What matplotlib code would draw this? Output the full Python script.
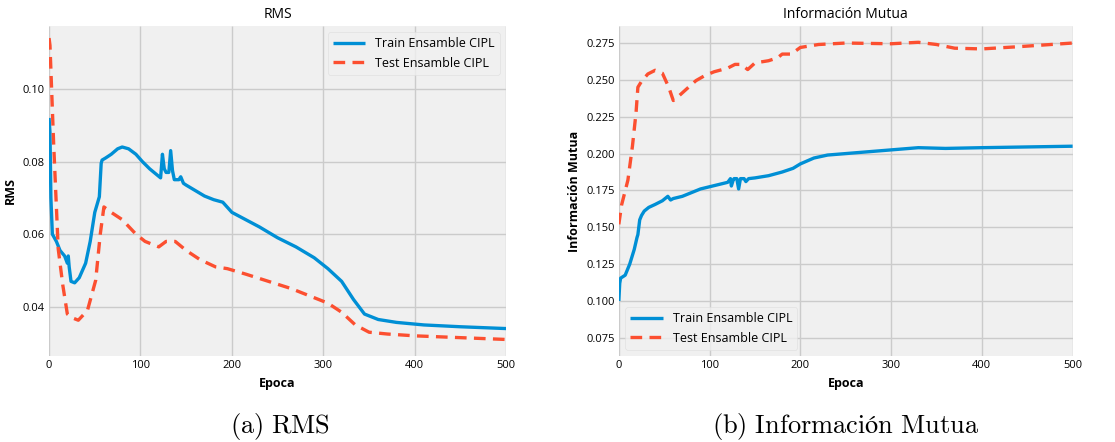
import matplotlib
matplotlib.use("Agg")
import matplotlib.pyplot as plt

plt.style.use("fivethirtyeight")
plt.rcParams["font.family"] = ["Open Sans", "DejaVu Sans"]
plt.rcParams["mathtext.fontset"] = "cm"

# RMS curves
rms_train_x = [0, 1, 2, 3.6, 8, 12, 17, 20, 21, 22, 24, 28, 33, 40, 45, 50, 55, 57, 58, 62, 68,
               75, 80, 87, 95, 102, 110, 122, 124, 126, 128, 131, 133, 135, 137, 142, 144, 147,
               150, 160, 170, 180, 190, 200, 215, 230, 250, 270, 290, 305, 320, 333, 345, 360,
               380, 410, 450, 500]
rms_train_y = [0.092, 0.088, 0.070, 0.060, 0.058, 0.0555, 0.054, 0.052, 0.054, 0.051, 0.047,
               0.0466, 0.048, 0.052, 0.058, 0.066, 0.0703, 0.0795, 0.0804, 0.081, 0.082,
               0.0835, 0.084, 0.0835, 0.082, 0.080, 0.078, 0.0755, 0.082, 0.078, 0.077, 0.077,
               0.083, 0.0775, 0.075, 0.075, 0.0758, 0.074, 0.0735, 0.072, 0.0705, 0.0695,
               0.0688, 0.066, 0.064, 0.062, 0.059, 0.0565, 0.0535, 0.0505, 0.047, 0.042, 0.038,
               0.0365, 0.0357, 0.035, 0.0345, 0.034]
rms_test_x = [0, 1, 5, 10, 15, 20, 25, 32, 42, 51, 56, 60, 68, 80, 95, 105, 120, 128, 138, 150,
              165, 182, 195, 215, 240, 265, 285, 305, 320, 335, 350, 370, 400, 450, 500]
rms_test_y = [0.114, 0.112, 0.085, 0.056, 0.046, 0.038, 0.037, 0.0363, 0.039, 0.0473, 0.060,
              0.0675, 0.066, 0.064, 0.060, 0.058, 0.0565, 0.058, 0.058, 0.0555, 0.053, 0.051,
              0.0505, 0.049, 0.047, 0.045, 0.043, 0.041, 0.0385, 0.035, 0.033, 0.0325, 0.032,
              0.0315, 0.031]

# Mutual information curves
mi_train_x = [0, 1, 2, 7, 12, 17, 20, 21, 22, 23, 25, 28, 33, 40, 48, 54, 57, 60, 70, 80, 90,
              100, 110, 120, 123, 124, 126, 127, 130, 132, 134, 138, 140, 143, 150, 165, 180,
              192, 200, 215, 230, 260, 300, 330, 360, 400, 450, 500]
mi_train_y = [0.100, 0.112, 0.1155, 0.1175, 0.125, 0.135, 0.143, 0.145, 0.150, 0.155, 0.158,
              0.161, 0.1635, 0.1655, 0.168, 0.171, 0.1685, 0.1695, 0.171, 0.1735, 0.176,
              0.1775, 0.179, 0.1805, 0.183, 0.178, 0.182, 0.183, 0.183, 0.176, 0.183, 0.183,
              0.181, 0.183, 0.1835, 0.185, 0.1875, 0.190, 0.193, 0.197, 0.199, 0.2005, 0.2025,
              0.204, 0.2035, 0.204, 0.2045, 0.205]
mi_test_x = [0, 3, 10, 15, 19, 21, 25, 32, 40, 48, 55, 60, 66, 75, 85, 95, 105, 120, 128, 135,
             142, 150, 165, 175, 180, 190, 200, 220, 250, 300, 330, 350, 370, 400, 440, 500]
mi_test_y = [0.152, 0.165, 0.182, 0.205, 0.228, 0.245, 0.249, 0.254, 0.2565, 0.2545, 0.245,
             0.236, 0.239, 0.244, 0.2495, 0.253, 0.2555, 0.258, 0.2605, 0.2605, 0.257, 0.2615,
             0.263, 0.265, 0.2675, 0.2675, 0.272, 0.274, 0.275, 0.2745, 0.2755, 0.274, 0.2715,
             0.271, 0.2725, 0.275]

rms_yticks = [0.04, 0.06, 0.08, 0.10]
mi_yticks = [0.075, 0.100, 0.125, 0.150, 0.175, 0.200, 0.225, 0.250, 0.275]
x_ticks = [0, 100, 200, 300, 400, 500]

train_label = "Train Ensamble CIPL"
test_label = "Test Ensamble CIPL"
blue = "#008fd5"
red = "#fc4f30"

fig = plt.figure(figsize=(11.15, 4.42), dpi=100)
fig.patch.set_facecolor("white")

ax1 = fig.add_axes([0.044, 0.195, 0.410, 0.746])
ax2 = fig.add_axes([0.555, 0.195, 0.407, 0.746])


def style_axes(ax):
    ax.set_facecolor("#f0f0f0")
    ax.grid(True, color="#cbcbcb", linewidth=1.0)
    ax.tick_params(axis="both", labelsize=8, length=0, pad=3)
    for s in ax.spines.values():
        s.set_visible(False)
    ax.set_xlim(0, 500)
    ax.set_xticks(x_ticks)
    ax.set_xlabel("Epoca", fontsize=9, fontweight="bold", labelpad=4)


lw = 2.4
ax1.plot(rms_train_x, rms_train_y, color=blue, lw=lw, label=train_label)
ax1.plot(rms_test_x, rms_test_y, color=red, lw=lw, ls=(0, (3.5, 2.2)), label=test_label)
style_axes(ax1)
ax1.set_ylim(0.0265, 0.1173)
ax1.set_yticks(rms_yticks)
ax1.set_yticklabels([f"{v:.2f}" for v in rms_yticks])
ax1.set_ylabel("RMS", fontsize=9, fontweight="bold", labelpad=4)
ax1.set_title("RMS", fontsize=10, pad=6)
leg1 = ax1.legend(loc="upper right", fontsize=9, frameon=True, handlelength=2.6)
leg1.get_frame().set_facecolor("#f0f0f0")
leg1.get_frame().set_edgecolor("#dddddd")

ax2.plot(mi_train_x, mi_train_y, color=blue, lw=lw, label=train_label)
ax2.plot(mi_test_x, mi_test_y, color=red, lw=lw, ls=(0, (3.5, 2.2)), label=test_label)
style_axes(ax2)
ax2.set_ylim(0.0628, 0.2865)
ax2.set_yticks(mi_yticks)
ax2.set_yticklabels([f"{v:.3f}" for v in mi_yticks])
ax2.set_ylabel("Información Mutua", fontsize=9, fontweight="bold", labelpad=4)
ax2.set_title("Información Mutua", fontsize=10, pad=6)
leg2 = ax2.legend(loc="lower left", fontsize=9, frameon=True, handlelength=2.6)
leg2.get_frame().set_facecolor("#f0f0f0")
leg2.get_frame().set_edgecolor("#dddddd")

fig.text(0.251, 0.036, r"$\mathrm{(a)\ RMS}$", ha="center", va="center", fontsize=19)
fig.text(0.758, 0.036, "$\\mathrm{(b)\\ Información\\ Mutua}$", ha="center",
         va="center", fontsize=19)

fig.savefig("out.png", dpi=100, facecolor="white")
